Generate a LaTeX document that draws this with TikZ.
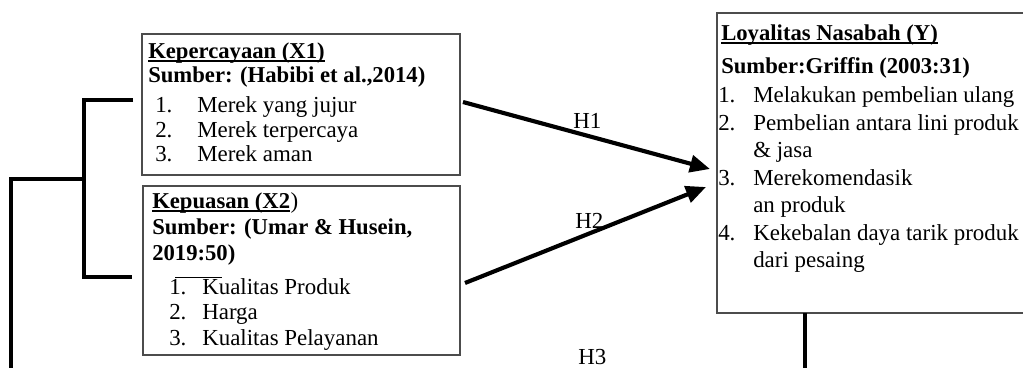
\documentclass[tikz,border=0pt]{standalone}
\usepackage{fontspec}
\setmainfont{Liberation Serif}
\usetikzlibrary{arrows.meta,fit}
\begin{document}
\begin{tikzpicture}[x=0.75pt,y=-0.75pt,
  box/.style={draw=black!70, line width=0.95pt, inner sep=0pt},
  txt/.style={anchor=base west, inner sep=0pt, font=\fontsize{17.2}{20}\selectfont},
  btxt/.style={anchor=base west, inner sep=0pt, font=\fontsize{17}{20}\selectfont\bfseries},
  uline/.style={line width=0.95pt},
  brk/.style={line width=2.5pt},
  arr/.style={line width=3.1pt, -{Triangle[length=15pt,width=12.75pt]}},
]
\useasboundingbox (0,0) rectangle (1023,368);

% boxes
\coordinate (x1nw) at (142,34); \coordinate (x1se) at (460,175);
\coordinate (x2nw) at (143,186); \coordinate (x2se) at (460,355);
\coordinate (ynw) at (717,13); \coordinate (yse) at (1045,313);
\node[box, fit=(x1nw)(x1se)] (x1) {};
\node[box, fit=(x2nw)(x2se)] (x2) {};
\node[box, fit=(ynw)(yse)] (y) {};

% X1 text
\node[btxt] (x1h) at (148,58) {Kepercayaan (X1)};
\draw[uline] ([yshift=-2.25pt]x1h.base west) -- ([yshift=-2.25pt]x1h.base east);
\node[btxt] (x1s) at (148,82) {Sumber: (Habibi et al.,2014)};
\node[txt] (x1n1) at (155,112) {1.}; \node[txt] (x1i1) at (197,112) {Merek yang jujur};
\node[txt] (x1n2) at (155,137) {2.}; \node[txt] (x1i2) at (197,137) {Merek terpercaya};
\node[txt] (x1n3) at (155,161) {3.}; \node[txt] (x1i3) at (197,161) {Merek aman};

% X2 text
\node[btxt] (x2h) at (152,208) {Kepuasan (X2};
\node[txt] (x2p) at (x2h.base east) {)};
\draw[uline] ([yshift=-2.25pt]x2h.base west) -- ([yshift=-2.25pt]x2h.base east);
\node[btxt] (x2s) at (152,234) {Sumber: (Umar \& Husein,};
\node[btxt] (x2s2) at (152,260) {2019:50)};
\coordinate (ol1) at (175,277); \coordinate (ol2) at (222,277);
\draw[line width=0.75pt] (ol1) -- (ol2);
\node[txt] (x2n1) at (169,294) {1.}; \node[txt] (x2i1) at (202,294) {Kualitas Produk};
\node[txt] (x2n2) at (169,319) {2.}; \node[txt] (x2i2) at (202,319) {Harga};
\node[txt] (x2n3) at (169,345) {3.}; \node[txt] (x2i3) at (202,345) {Kualitas Pelayanan};

% Y text
\node[btxt] (yh) at (721,40) {Loyalitas Nasabah (Y)};
\draw[uline] ([yshift=-2.25pt]yh.base west) -- ([yshift=-2.25pt]yh.base east);
\node[btxt] (ys) at (721,73) {Sumber:Griffin (2003:31)};
\node[txt] (yn1) at (718,102) {1.}; \node[txt] (yi1) at (753,102) {Melakukan pembelian ulang};
\node[txt] (yn2) at (718,130) {2.}; \node[txt] (yi2) at (753,130) {Pembelian antara lini produk};
\node[txt] (yi2b) at (753,157) {\& jasa};
\node[txt] (yn3) at (718,185) {3.}; \node[txt] (yi3) at (753,185) {Merekomendasik};
\node[txt] (yi3b) at (753,212) {an produk};
\node[txt] (yn4) at (718,240) {4.}; \node[txt] (yi4) at (753,240) {Kekebalan daya tarik produk};
\node[txt] (yi4b) at (753,267) {dari pesaing};

% arrows
\coordinate (h1s) at (463,102); \coordinate (h1e) at (710,169);
\coordinate (h2s) at (465,283); \coordinate (h2e) at (706,187);
\draw[arr] (h1s) -- (h1e);
\draw[arr] (h2s) -- (h2e);
\node[txt] (lh1) at (573,128) {H1};
\node[txt] (lh2) at (575,228) {H2};
\node[txt] (lh3) at (578,364) {H3};

% bracket
\coordinate (b1) at (133,100); \coordinate (b2) at (84,100);
\coordinate (b3) at (84,277); \coordinate (b4) at (132,277);
\coordinate (b5) at (84,179); \coordinate (b6) at (11,179);
\coordinate (b7) at (11,368);
\draw[brk] (b1) -- (b2) -- (b3) -- (b4);
\draw[brk] (b5) -- (b6) -- (b7);

% H3 line
\coordinate (h3a) at (805,313); \coordinate (h3b) at (805,368);
\draw[brk] (h3a) -- (h3b);
\end{tikzpicture}
\end{document}
